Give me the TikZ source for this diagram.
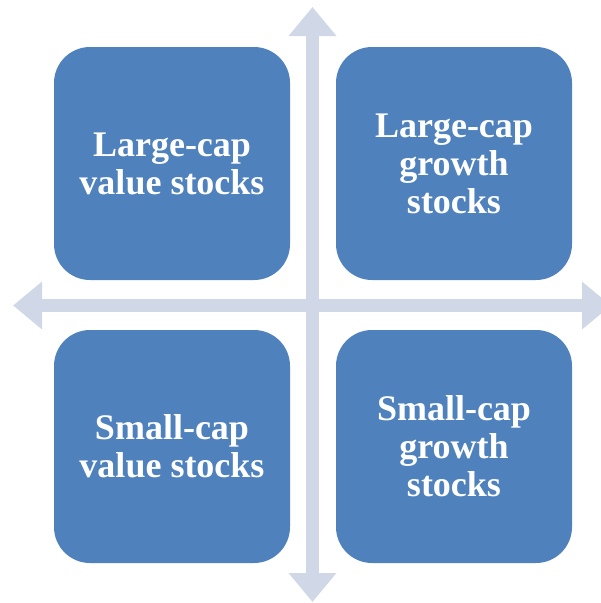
\documentclass[tikz,border=0pt]{standalone}
\usepackage{fontspec}
\setmainfont{Liberation Serif}
\usetikzlibrary{arrows.meta, positioning}
\definecolor{boxblue}{RGB}{79,129,189}
\definecolor{axisgray}{RGB}{208,216,232}

\begin{document}
\begin{tikzpicture}[x=1pt, y=-1pt,
    quadrant/.style={rectangle, rounded corners=36pt, fill=boxblue, text=white,
      font=\bfseries\fontsize{36}{38}\selectfont, align=center,
      minimum width=236pt, minimum height=233pt, inner sep=0pt},
    axis/.style={draw=axisgray, line width=13pt,
      {Triangle[width=46pt,length=29pt]}-{Triangle[width=46pt,length=29pt]}}]
  \useasboundingbox (0,0) rectangle (601,603);

  % The four quadrants
  \node [quadrant] (quad-1) at (172,163.5) {Large-cap\\value stocks};
  \node [quadrant] (quad-2) at (454,163.5) {Large-cap\\growth\\stocks};
  \node [quadrant] (quad-3) at (172,446.5) {Small-cap\\value stocks};
  \node [quadrant] (quad-4) at (454,446.5) {Small-cap\\growth\\stocks};

  % Ends of the axes
  \coordinate (axis-top) at (312.5,7);
  \coordinate (axis-bottom) at (312.5,602);
  \coordinate (axis-left) at (13,305.5);
  \coordinate (axis-right) at (611,305.5);

  % Draw the axes
  \draw [axis] (axis-bottom) -- (axis-top);
  \draw [axis] (axis-left) -- (axis-right);
\end{tikzpicture}
\end{document}
